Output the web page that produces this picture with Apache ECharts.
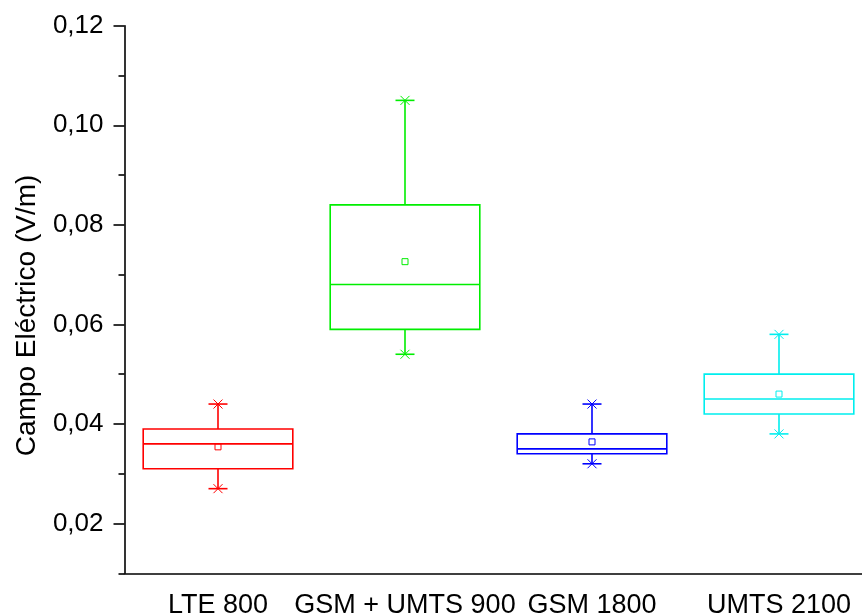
<!DOCTYPE html>
<html>
<head>
<meta charset="utf-8">
<script src="https://cdn.jsdelivr.net/npm/echarts@6/dist/echarts.min.js"></script>
<style>html,body{margin:0;padding:0;background:#fff}#c{width:862px;height:616px}</style>
</head>
<body>
<div id="c"></div>
<script>
const categories = ['LTE 800', 'GSM + UMTS 900', 'GSM 1800', 'UMTS 2100'];
const colors = ['#ff0000', '#00ee00', '#0000ff', '#00eeee'];
const whiskerMin = [0.027, 0.054, 0.032, 0.038];
const q1 = [0.031, 0.059, 0.034, 0.042];
const median = [0.036, 0.068, 0.035, 0.045];
const q3 = [0.039, 0.084, 0.038, 0.050];
const whiskerMax = [0.044, 0.105, 0.044, 0.058];
const mean = [0.0354, 0.0726, 0.0364, 0.0460];
const majorTicks = [0.02, 0.04, 0.06, 0.08, 0.10, 0.12];
const minorTicks = [0.01, 0.03, 0.05, 0.07, 0.09, 0.11];

const data = categories.map((c, i) => [i, whiskerMin[i], q1[i], median[i], q3[i], whiskerMax[i], mean[i]]);

function renderItem(params, api) {
  const i = api.value(0);
  const col = colors[i];
  const bw = api.size([1, 0])[0] * 0.8;
  const pMin = api.coord([i, api.value(1)]);
  const pQ1 = api.coord([i, api.value(2)]);
  const pMed = api.coord([i, api.value(3)]);
  const pQ3 = api.coord([i, api.value(4)]);
  const pMax = api.coord([i, api.value(5)]);
  const pMean = api.coord([i, api.value(6)]);
  const x = pMed[0];
  const half = bw / 2;
  const cap = 9.5;
  const xs = 4.5;
  const style = { stroke: col, lineWidth: 1.6, fill: null };
  const line = (x1, y1, x2, y2) => ({ type: 'line', shape: { x1, y1, x2, y2 }, style });
  const thin = { stroke: col, lineWidth: 1 };
  const children = [
    { type: 'rect', shape: { x: x - half, y: pQ3[1], width: bw, height: pQ1[1] - pQ3[1] }, style },
    line(x - half, pMed[1], x + half, pMed[1]),
    line(x, pQ3[1], x, pMax[1]),
    line(x, pQ1[1], x, pMin[1]),
    line(x - cap, pMax[1], x + cap, pMax[1]),
    line(x - cap, pMin[1], x + cap, pMin[1]),
    { type: 'line', shape: { x1: x - xs, y1: pMax[1] - xs, x2: x + xs, y2: pMax[1] + xs }, style: thin },
    { type: 'line', shape: { x1: x - xs, y1: pMax[1] + xs, x2: x + xs, y2: pMax[1] - xs }, style: thin },
    { type: 'line', shape: { x1: x - xs, y1: pMin[1] - xs, x2: x + xs, y2: pMin[1] + xs }, style: thin },
    { type: 'line', shape: { x1: x - xs, y1: pMin[1] + xs, x2: x + xs, y2: pMin[1] - xs }, style: thin },
    { type: 'rect', shape: { x: pMean[0] - 3, y: pMean[1] - 3, width: 6, height: 6 }, style: { stroke: col, lineWidth: 1, fill: null } }
  ];
  return { type: 'group', children };
}

const fmt = v => Number(v).toFixed(2).replace('.', ',');

const chart = echarts.init(document.getElementById('c'));
chart.setOption({
  animation: false,
  backgroundColor: '#fff',
  grid: { left: 124.5, top: 25.7, width: 748, height: 547.6, containLabel: false, outerBoundsMode: 'none' },
  xAxis: {
    type: 'category',
    data: categories,
    boundaryGap: true,
    axisLine: { lineStyle: { color: '#000', width: 1.6 } },
    axisTick: { alignWithLabel: true, length: 11, inside: false, lineStyle: { color: '#000', width: 1.6 } },
    axisLabel: { interval: 0, color: '#000', fontSize: 27, fontFamily: 'Liberation Sans', margin: 19 },
    splitLine: { show: false }
  },
  yAxis: [{
    type: 'value',
    min: 0.01,
    max: 0.12,
    position: 'left',
    name: 'Campo Eléctrico (V/m)',
    nameLocation: 'middle',
    nameGap: 83,
    nameTextStyle: { color: '#000', fontSize: 28, fontFamily: 'Liberation Sans', padding: [0, 32, 0, 0] },
    axisLine: { show: true, lineStyle: { color: '#000', width: 1.6 } },
    axisTick: { show: true, length: 11, customValues: majorTicks, lineStyle: { color: '#000', width: 1.6 } },
    axisLabel: { color: '#000', fontSize: 26, fontFamily: 'Liberation Sans', margin: 21, customValues: majorTicks, formatter: fmt },
    splitLine: { show: false }
  }, {
    type: 'value',
    min: 0.01,
    max: 0.12,
    position: 'left',
    axisLine: { show: false },
    axisTick: { show: true, length: 6, customValues: minorTicks, lineStyle: { color: '#000', width: 1.6 } },
    axisLabel: { show: false },
    splitLine: { show: false }
  }],
  series: [{
    type: 'custom',
    renderItem: renderItem,
    data: data,
    encode: { x: 0, y: [1, 2, 3, 4, 5, 6] },
    clip: false
  }]
});
</script>
</body>
</html>
